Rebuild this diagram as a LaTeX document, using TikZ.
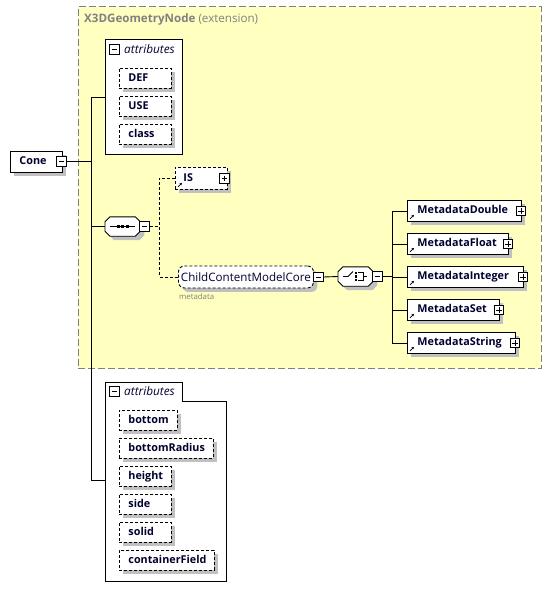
\documentclass[tikz,border=0pt]{standalone}
\usepackage{fontspec}
\setmainfont{Open Sans}
\usetikzlibrary{shadows,arrows.meta,calc}
\definecolor{extfill}{RGB}{255,255,192}
\definecolor{extline}{RGB}{128,128,128}
\definecolor{txt}{RGB}{0,0,48}
\definecolor{shad}{RGB}{192,192,192}
\newcommand\octoshape[1]{%
  \fill[shad] ($(#1.north west)+(9,4)$) -- ($(#1.north east)+(-1,4)$) -- ($(#1.north east)+(4,9)$) -- ($(#1.south east)+(4,-1)$)
    -- ($(#1.south east)+(-1,4)$) -- ($(#1.south west)+(9,4)$) -- ($(#1.south west)+(4,-1)$) -- ($(#1.north west)+(4,9)$) -- cycle;
  \draw[line width=0.9pt,fill=white] ($(#1.north west)+(5,0)$) -- ($(#1.north east)+(-5,0)$) -- ($(#1.north east)+(0,5)$) -- ($(#1.south east)+(0,-5)$)
    -- ($(#1.south east)+(-5,0)$) -- ($(#1.south west)+(5,0)$) -- ($(#1.south west)+(0,-5)$) -- ($(#1.north west)+(0,5)$) -- cycle;}
\tikzset{
  x=1pt,y=-1pt,
  every node/.style={font=\fontsize{11.6}{13}\selectfont},
  shd/.style={drop shadow={shadow xshift=4pt,shadow yshift=-4pt,fill=shad,opacity=1}},
  elem/.style={draw,fill=white,line width=0.9pt,anchor=north west,inner xsep=9pt,inner ysep=0pt,
    text height=8pt,text depth=2.5pt,minimum height=#1,align=left,text=txt,font=\fontsize{10.8}{12}\selectfont\bfseries},
  elem/.default=20pt,
  attrbox/.style={elem,dash pattern=on 3pt off 2pt,shd},
  reqbox/.style={elem,shd},
  optbox/.style={elem,dash pattern=on 3pt off 2pt,shd},
  cont/.style={draw,line width=0.9pt,fill=white},
  expbox/.style={draw,fill=white,line width=0.8pt,minimum size=9.5pt,inner sep=0pt},
  expm/.style={expbox,path picture={\draw[line width=0.8pt]([xshift=2pt]path picture bounding box.west)--([xshift=-2pt]path picture bounding box.east);}},
  expp/.style={expbox,path picture={\draw[line width=0.8pt]([xshift=2pt]path picture bounding box.west)--([xshift=-2pt]path picture bounding box.east);
     \draw[line width=0.8pt]([yshift=-2pt]path picture bounding box.north)--([yshift=2pt]path picture bounding box.south);}},
  conn/.style={line width=0.9pt},
  dconn/.style={line width=0.9pt,dash pattern=on 3pt off 2pt},
  compositor/.style={minimum width=35pt,minimum height=19pt,inner sep=0pt},
  refarrow/.style={-{Stealth[length=2.6pt,width=2.6pt]},line width=0.8pt},
  attrtitle/.style={anchor=west,inner sep=0pt,text=txt,font=\fontsize{11.8}{13}\selectfont\itshape},
}
\begin{document}
\begin{tikzpicture}
\useasboundingbox (0,0) rectangle (551,600);
% extension area
\node[draw=extline,fill=extfill,dash pattern=on 7pt off 3pt,line width=1pt,anchor=north west,minimum width=463pt,minimum height=362pt,inner sep=0pt] (ext) at (77.5,6) {};
\node[anchor=west,text=extline,inner sep=0pt] (exttitle) at (84,19) {\textbf{X3DGeometryNode} (extension)};

% top attributes
\node[cont,anchor=north west,minimum width=77pt,minimum height=115pt,inner sep=0pt] (attrA) at (105,39) {};
\node[expm] (attrAx) at (114.5,49.5) {};
\node[attrtitle] (attrAt) at (124,49) {attributes};
\node[attrbox,text width=34pt] (def) at (119,68) {DEF};
\node[attrbox,text width=34pt] (use) at (119,96) {USE};
\node[attrbox,text width=34pt] (class) at (119,124) {class};

% Cone
\node[reqbox,text width=34pt,minimum height=21pt] (cone) at (10,151) {Cone};
\node[expm] (conex) at (61.5,161.5) {};

% bottom attributes (tabbed)
\draw[line width=0.9pt,fill=white] (105,382) -- (182,382) -- (182,401) -- (226,401) -- (226,581) -- (105,581) -- cycle;
\node[anchor=north west,minimum width=121pt,minimum height=199pt,inner sep=0pt] (attrB) at (105,382) {};
\node[expm] (attrBx) at (114.5,391.5) {};
\node[attrtitle] (attrBt) at (124,391) {attributes};
\node[attrbox,text width=40pt] (bottom) at (119,410) {bottom};
\node[attrbox,text width=76pt] (bradius) at (119,438) {bottomRadius};
\node[attrbox,text width=34pt] (height) at (119,466) {height};
\node[attrbox,text width=34pt] (side) at (119,494) {side};
\node[attrbox,text width=34pt] (solid) at (119,522) {solid};
\node[attrbox,text width=77pt] (cfield) at (119,550) {containerField};

% main bus
\coordinate (bus) at (91,0);
\draw[conn] (conex.east) -- (bus |- conex.east);
\draw[conn] (attrA.west) -- (bus |- attrA.west) -- (bus |- 0,480) -- (attrB.west |- 0,480);

% sequence compositor
\node[compositor,anchor=west] (seq) at (105,226.5) {};
\octoshape{seq}
\draw[line width=0.9pt] ([xshift=5pt]seq.west) -- ([xshift=-5pt]seq.east);
\foreach \i in {0,1,2} \fill ($(seq.center)+(-4.5+4.5*\i,0)$) +(-1.4,-1.4) rectangle +(1.4,1.4);
\node[expm] (seqx) at (144.5,226.5) {};
\draw[conn] (seq.west) -- (bus |- seq.west);

% IS
\node[optbox,text width=36pt,minimum height=22pt,inner xsep=8pt] (is) at (175,167) {IS};
\node[expp] (isx) at (224.5,178.5) {};
\draw[refarrow] ([shift={(3,-3)}]is.south west) -- ++(4,-4);

% ChildContentModelCore
\node[draw,fill=white,dash pattern=on 3pt off 2pt,line width=0.9pt,rounded corners=6pt,shd,anchor=north west,
  minimum width=135pt,minimum height=22pt,inner sep=0pt,text=txt] (ccmc) at (178,265.5) {ChildContentModelCore};
\node[expm] (ccmcx) at (318.5,277) {};
\node[anchor=north west,inner sep=0pt,text=extline,font=\fontsize{7.8}{9}\selectfont] (meta) at (179,293) {metadata};

% dashed connectors from sequence
\coordinate (sbus) at (159,0);
\draw[dconn] (seqx.east) -- (sbus |- seqx.east);
\draw[dconn] (is.west) -- (sbus |- is.west) -- (sbus |- ccmc.west) -- (ccmc.west);

% choice compositor
\node[compositor,anchor=west] (cho) at (338,276.5) {};
\octoshape{cho}
\draw[line width=0.9pt] ([xshift=5pt]cho.west) -- ++(5,0) -- ++(5,-5);
\foreach \i in {-1,0,1} \fill ($(cho.center)+(0.5,3.2*\i)$) +(-1.2,-1.1) rectangle +(1.2,1.1);
\draw[line width=0.9pt] ($(cho.center)+(2.5,-4)$) -- ++(5,0) -- ++(0,8) -- ++(-5,0);
\draw[line width=0.9pt] ($(cho.center)+(7.5,0)$) -- ++(4,0);
\node[expm] (chox) at (377.5,276.5) {};
\draw[conn] (ccmcx.east) -- (cho.west);

% metadata elements
\node[reqbox,text width=94pt,minimum height=21pt,inner xsep=10pt] (md1) at (407,200) {MetadataDouble};
\node[reqbox,text width=81pt,minimum height=21pt,inner xsep=10pt] (md2) at (407,233) {MetadataFloat};
\node[reqbox,text width=96pt,minimum height=21pt,inner xsep=10pt] (md3) at (407,266) {MetadataInteger};
\node[reqbox,text width=72pt,minimum height=21pt,inner xsep=10pt] (md4) at (407,299) {MetadataSet};
\node[reqbox,text width=88pt,minimum height=21pt,inner xsep=10pt] (md5) at (407,332) {MetadataString};
\foreach \m in {md1,md2,md3,md4,md5}{
  \node[expp] (\m x) at ([xshift=-1pt]\m.east) {};
  \draw[refarrow] ([shift={(3,-3)}]\m.south west) -- ++(4,-4);
}
\coordinate (cbus) at (392,0);
\draw[conn] (chox.east) -- (cbus |- chox.east);
\draw[conn] (md1.west) -- (cbus |- md1.west) -- (cbus |- md5.west) -- (md5.west);
\foreach \m in {md2,md3,md4} \draw[conn] (\m.west) -- (cbus |- \m.west);
\end{tikzpicture}
\end{document}
